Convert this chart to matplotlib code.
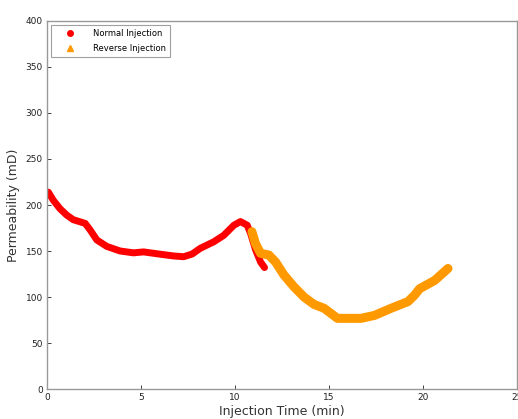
import matplotlib
matplotlib.use("Agg")
import matplotlib.pyplot as plt
from matplotlib.lines import Line2D

# permeability readings over injection time
normal_time = [0.07, 0.34, 0.69, 1.05, 1.4, 2.03, 2.29, 2.65, 3.18, 3.89, 4.6,
               5.14, 5.85, 6.73, 7.27, 7.72, 8.16, 8.87, 9.4, 9.94, 10.29,
               10.65, 10.83, 11.1, 11.36, 11.57]
normal_perm = [214, 205, 196, 189, 184, 180, 173, 162, 155, 150, 148,
               149, 147, 144.6, 143.8, 146.7, 153, 160, 167, 178, 182,
               178, 169, 151, 138, 132]

reverse_time = [10.9, 11.09, 11.36, 11.8, 12.16, 12.6, 13.14, 13.67, 14.2,
                14.74, 15.45, 16.7, 17.42, 18.3, 19.2, 19.55, 19.82, 20.62,
                21.33]
reverse_perm = [171, 158, 147.5, 145.6, 138, 124, 111, 100, 92,
                87.7, 76.8, 76.8, 80, 87.7, 95, 102, 109, 118,
                131]

fig = plt.figure(figsize=(5.18, 4.19), dpi=100)
ax = fig.add_axes([47 / 518, 30 / 419, 470 / 518, 368 / 419])

ax.plot(normal_time, normal_perm, '-', color='#ff0000', lw=5,
        solid_capstyle='round', solid_joinstyle='round')
ax.plot(reverse_time, reverse_perm, '-', color='#ff9900', lw=6.5,
        solid_capstyle='round', solid_joinstyle='round')

ax.set_xlim(0, 25)
ax.set_ylim(0, 400)
ax.set_xticks([0, 5, 10, 15, 20, 25])
ax.set_yticks(range(0, 401, 50))
ax.tick_params(direction='in', length=3, width=0.6, labelsize=6.5,
               colors='#222222', pad=3, top=False, right=False)
for s in ax.spines.values():
    s.set_color('#999999')
    s.set_linewidth(1.0)

ax.set_xlabel('Injection Time (min)', fontsize=9, color='#333333', labelpad=2)
ax.set_ylabel('Permeability (mD)', fontsize=9, color='#333333', labelpad=4)

handles = [Line2D([], [], ls='none', marker='o', color='#ff0000', ms=4),
           Line2D([], [], ls='none', marker='^', color='#ff9900', ms=5)]
leg = ax.legend(handles, ['Normal Injection', 'Reverse Injection'],
                loc='upper left', fontsize=6, frameon=True, fancybox=False,
                edgecolor='#888888', borderaxespad=0.5, handlelength=3.5,
                handletextpad=1.0, labelspacing=0.65, borderpad=0.5)
leg.get_frame().set_linewidth(0.8)

fig.savefig('out.png', dpi=100)
